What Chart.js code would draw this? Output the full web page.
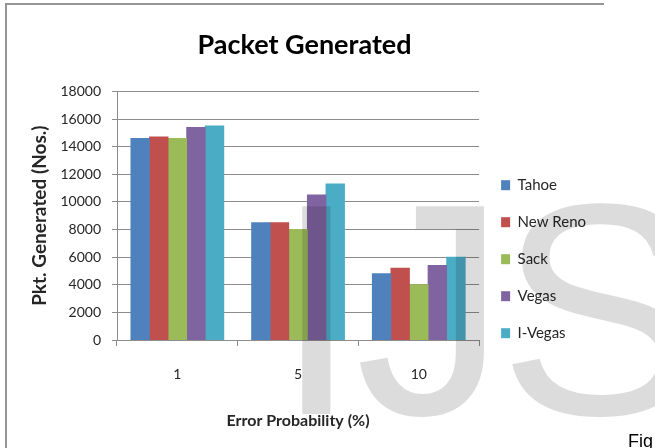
<!DOCTYPE html>
<html>
<head>
<meta charset="utf-8">
<title>Packet Generated</title>
<script src="https://cdn.jsdelivr.net/npm/chart.js@4/dist/chart.umd.min.js"></script>
<style>
  html, body { margin: 0; padding: 0; background: #ffffff; }
  #wrap { width: 655px; height: 448px; position: relative; }
  canvas { display: block; }
</style>
</head>
<body>
<div id="wrap"><canvas id="chart" width="655" height="448"></canvas></div>
<script>
// Error probability categories (%)
const categories = ['1', '5', '10'];

// Packets generated per TCP variant
const tahoe   = [14600, 8500, 4800];
const newReno = [14700, 8500, 5200];
const sack    = [14600, 8000, 4000];
const vegas   = [15400, 10500, 5400];
const iVegas  = [15500, 11300, 6000];

const seriesNames  = ['Tahoe', 'New Reno', 'Sack', 'Vegas', 'I-Vegas'];
const seriesValues = [tahoe, newReno, sack, vegas, iVegas];
const seriesColors = ['#4F81BD', '#C0504D', '#9BBB59', '#8064A2', '#4BACC6'];

// Value axis range
const yMin = 0;
const yMax = 18000;
const yStep = 2000;

const AXIS_GREY = '#8c8c8c';
const TEXT = '#262626';

// Grey page frame around the figure
const frame = {
  id: 'frame',
  beforeDraw(chart) {
    const ctx = chart.ctx;
    ctx.save();
    ctx.strokeStyle = '#959595';
    ctx.lineWidth = 2;
    ctx.beginPath();
    ctx.moveTo(6, 448);
    ctx.lineTo(6, 4);
    ctx.lineTo(604, 4);
    ctx.stroke();
    ctx.restore();
  }
};

// Figure caption and publisher watermark
const overlay = {
  id: 'overlay',
  afterDraw(chart) {
    const ctx = chart.ctx;
    ctx.save();
    ctx.globalCompositeOperation = 'multiply';
    ctx.fillStyle = '#dcdcdc';
    ctx.font = '302px "Liberation Sans", Arial, sans-serif';
    ctx.textBaseline = 'alphabetic';
    ctx.textAlign = 'left';
    [['I', 298], ['J', 360], ['S', 508]].forEach(([ch, left]) => {
      const m = ctx.measureText(ch);
      ctx.fillText(ch, left + m.actualBoundingBoxLeft, 414);
    });
    ctx.restore();

    ctx.save();
    ctx.fillStyle = '#000000';
    ctx.font = '18px "Liberation Sans", Arial, sans-serif';
    ctx.textBaseline = 'alphabetic';
    ctx.fillText('Fig', 628, 447);
    ctx.restore();
  }
};

new Chart(document.getElementById('chart'), {
  type: 'bar',
  data: {
    labels: categories,
    datasets: seriesNames.map((name, i) => ({
      label: name,
      data: seriesValues[i],
      backgroundColor: seriesColors[i],
      borderWidth: 0,
      inflateAmount: 0.4,
      categoryPercentage: 0.77,
      barPercentage: 1.0
    }))
  },
  options: {
    responsive: false,
    animation: false,
    devicePixelRatio: 1,
    layout: { padding: { left: 13, right: 59, top: 0, bottom: 0 } },
    plugins: {
      title: {
        display: true,
        text: 'Packet Generated',
        color: '#000000',
        font: { family: 'Lato', size: 27, weight: 'bold' },
        padding: { top: 29, bottom: 30 }
      },
      legend: {
        position: 'right',
        align: 'center',
        title: { display: true, text: '', font: { size: 12 }, padding: { top: 56, bottom: 0 } },
        labels: {
          boxWidth: 9,
          boxHeight: 10,
          padding: 22,
          color: TEXT,
          font: { family: 'Lato', size: 15 }
        }
      },
      tooltip: { enabled: false }
    },
    scales: {
      x: {
        grid: { display: true, drawOnChartArea: false, offset: true, tickLength: 6, color: AXIS_GREY },
        border: { color: AXIS_GREY },
        ticks: { padding: 20, color: TEXT, font: { family: 'Lato', size: 14 } },
        title: {
          display: true,
          text: 'Error Probability (%)',
          color: TEXT,
          font: { family: 'Lato', size: 16, weight: 'bold' },
          padding: { top: 0, bottom: 18 }
        },
        afterFit(scale) { scale.height = 108; }
      },
      y: {
        min: yMin,
        max: yMax,
        grid: { color: AXIS_GREY, tickLength: 5 },
        border: { color: AXIS_GREY },
        ticks: {
          stepSize: yStep,
          padding: 11,
          color: TEXT,
          font: { family: 'Lato', size: 14 },
          callback: (v) => String(v)
        },
        title: {
          display: true,
          text: 'Pkt. Generated (Nos.)',
          color: TEXT,
          font: { family: 'Lato', size: 19, weight: 'bold' },
          padding: { top: 15, bottom: 0 }
        },
        afterFit(scale) { scale.width = 104; }
      }
    }
  },
  plugins: [frame, overlay]
});
</script>
</body>
</html>
